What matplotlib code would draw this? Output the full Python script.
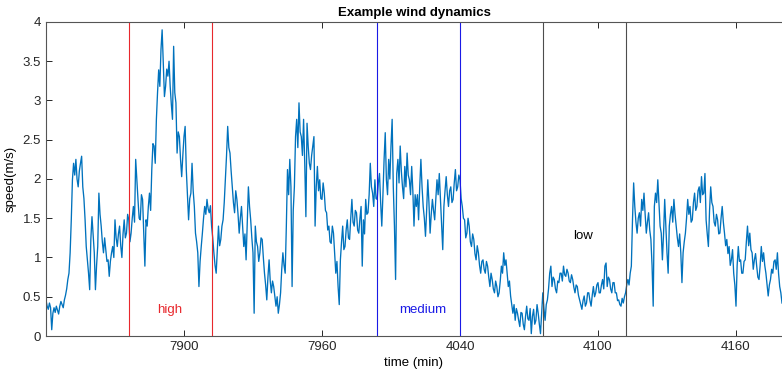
import numpy as np
import matplotlib
matplotlib.use("Agg")
import matplotlib.pyplot as plt
from matplotlib.ticker import FuncFormatter

plt.rcParams["font.family"] = ["Liberation Sans", "DejaVu Sans"]

# DATA (one sample every 0.5 min)

speed = [
    0.46, 0.38, 0.34, 0.42, 0.36, 0.08, 0.29, 0.36, 0.30, 0.38, 0.33, 0.28, 0.38, 0.44, 0.40, 0.36, 0.46, 0.52, 0.60, 0.72,
    0.80, 1.06, 1.48, 1.99, 2.20, 2.05, 2.25, 2.00, 1.90, 2.10, 2.20, 2.29, 1.90, 1.75, 1.48, 1.14, 0.97, 0.80, 0.59, 1.23,
    1.52, 1.30, 1.06, 0.59, 0.90, 1.14, 1.82, 1.55, 1.40, 1.20, 1.06, 1.25, 1.10, 0.95, 0.97, 0.76, 0.95, 1.06, 1.14, 1.00,
    1.48, 1.25, 1.14, 1.30, 1.40, 1.15, 1.00, 1.30, 1.48, 1.25, 1.31, 1.55, 1.48, 1.20, 1.31, 1.50, 1.65, 1.45, 2.25, 1.99,
    1.74, 1.50, 1.48, 1.80, 1.74, 1.30, 0.89, 1.48, 1.40, 1.65, 1.82, 1.60, 2.12, 2.45, 2.42, 2.20, 2.76, 3.10, 3.39, 3.18,
    3.65, 3.90, 3.48, 3.05, 3.18, 3.40, 3.31, 3.50, 3.18, 2.95, 2.76, 3.69, 3.10, 2.97, 2.33, 2.60, 2.54, 2.25, 2.03, 2.30,
    2.54, 2.67, 2.12, 1.80, 1.48, 1.75, 1.82, 2.20, 1.85, 1.65, 1.31, 1.20, 1.06, 0.63, 0.95, 1.14, 1.31, 1.50, 1.65, 1.55,
    1.74, 1.62, 1.57, 1.66, 1.40, 1.25, 1.06, 0.90, 0.80, 1.10, 1.40, 1.15, 1.23, 1.40, 1.48, 1.70, 1.99, 2.30, 2.67, 2.40,
    2.33, 2.10, 1.90, 1.70, 1.57, 1.85, 1.74, 1.55, 1.31, 1.50, 1.65, 1.40, 1.14, 1.30, 0.97, 1.45, 1.90, 1.65, 1.48, 1.25,
    1.06, 0.29, 1.40, 1.20, 1.14, 0.95, 1.06, 1.25, 1.23, 1.00, 0.80, 0.65, 0.46, 0.75, 0.97, 0.70, 0.55, 0.70, 0.63, 0.50,
    0.38, 0.50, 0.29, 0.40, 0.55, 0.85, 1.06, 0.90, 0.80, 1.40, 2.12, 1.80, 2.25, 1.90, 0.63, 1.60, 1.90, 2.54, 2.76, 2.40,
    2.97, 2.60, 2.54, 2.30, 2.76, 2.20, 1.52, 2.71, 2.42, 2.20, 2.12, 2.30, 2.42, 2.54, 1.40, 1.90, 2.16, 1.85, 1.99, 1.75,
    1.74, 1.95, 1.82, 1.60, 1.57, 1.35, 1.40, 1.20, 1.18, 1.40, 1.31, 1.05, 0.80, 0.95, 0.63, 0.40, 0.97, 1.20, 1.40, 1.10,
    1.14, 1.35, 1.48, 1.25, 1.23, 1.50, 1.74, 1.45, 1.40, 1.60, 1.57, 1.35, 1.31, 1.50, 1.65, 0.89, 1.48, 1.30, 1.74, 1.55,
    1.57, 1.80, 2.20, 1.90, 1.82, 1.65, 1.99, 1.75, 1.74, 1.95, 2.07, 1.70, 1.40, 1.80, 2.25, 2.59, 1.99, 1.80, 2.25, 2.00,
    2.42, 2.76, 1.90, 1.40, 0.72, 2.07, 2.25, 1.95, 2.42, 2.10, 1.90, 1.75, 2.16, 1.90, 2.33, 2.05, 1.99, 1.80, 2.16, 1.85,
    1.40, 1.80, 1.65, 1.80, 1.48, 1.90, 2.25, 1.90, 1.65, 1.50, 1.27, 1.60, 1.99, 1.70, 1.31, 1.55, 1.74, 1.60, 1.48, 1.75,
    1.99, 1.80, 2.07, 1.75, 1.40, 1.10, 1.65, 1.85, 2.03, 1.80, 1.65, 1.85, 1.90, 1.70, 1.74, 1.95, 2.12, 1.85, 1.90, 2.05,
    1.99, 1.75, 1.65, 1.50, 1.48, 1.25, 1.31, 1.50, 1.40, 1.20, 1.14, 1.30, 1.23, 1.05, 0.97, 1.15, 1.06, 0.90, 0.80, 0.95,
    0.97, 0.85, 0.80, 0.95, 0.89, 0.75, 0.63, 0.80, 0.72, 0.60, 0.55, 0.70, 0.63, 0.50, 0.55, 0.70, 0.89, 0.80, 1.06, 0.90,
    0.97, 0.80, 0.63, 0.70, 0.51, 0.40, 0.29, 0.40, 0.20, 0.35, 0.29, 0.20, 0.12, 0.30, 0.29, 0.15, 0.08, 0.25, 0.38, 0.22,
    0.20, 0.35, 0.03, 0.25, 0.34, 0.15, 0.20, 0.40, 0.29, 0.15, 0.03, 0.30, 0.55, 0.35, 0.20, 0.40, 0.46, 0.60, 0.80, 0.89,
    0.63, 0.75, 0.72, 0.60, 0.55, 0.70, 0.68, 0.80, 0.80, 0.70, 0.89, 0.78, 0.76, 0.85, 0.80, 0.70, 0.68, 0.78, 0.72, 0.62,
    0.55, 0.65, 0.63, 0.52, 0.46, 0.40, 0.34, 0.45, 0.51, 0.38, 0.42, 0.55, 0.55, 0.45, 0.38, 0.52, 0.63, 0.50, 0.55, 0.65,
    0.68, 0.55, 0.55, 0.65, 0.72, 0.60, 0.89, 0.93, 0.63, 0.75, 0.72, 0.60, 0.55, 0.68, 0.68, 0.55, 0.55, 0.45, 0.46, 0.40,
    0.38, 0.48, 0.42, 0.50, 0.55, 0.65, 0.72, 0.65, 0.80, 0.89, 1.48, 1.95, 1.65, 1.45, 1.31, 1.50, 1.57, 1.40, 1.74, 1.60,
    1.82, 1.55, 1.31, 1.45, 1.57, 1.35, 1.23, 0.90, 0.38, 1.65, 1.82, 1.70, 1.99, 1.70, 1.40, 1.31, 0.97, 1.30, 1.74, 1.40,
    1.06, 0.80, 1.40, 1.55, 1.65, 1.45, 1.74, 1.55, 1.40, 1.25, 1.14, 1.30, 1.06, 0.68, 1.06, 1.20, 1.31, 1.50, 1.74, 1.55,
    1.65, 1.45, 1.48, 1.70, 1.82, 1.60, 1.65, 1.85, 1.90, 1.70, 2.03, 1.80, 1.82, 2.07, 1.48, 1.30, 1.14, 1.60, 1.90, 1.70,
    1.65, 1.45, 1.40, 1.55, 1.48, 1.30, 1.31, 1.50, 1.65, 1.45, 1.31, 1.15, 1.23, 1.05, 1.14, 0.90, 0.97, 1.10, 0.80, 0.65,
    0.38, 0.90, 1.14, 0.95, 0.97, 0.80, 0.80, 0.95, 0.97, 1.20, 1.40, 1.15, 1.31, 1.10, 1.06, 0.85, 0.97, 1.05, 0.89, 0.75,
    0.72, 0.90, 1.14, 0.95, 1.06, 0.90, 0.80, 0.65, 0.51, 0.65, 0.72, 0.85, 0.80, 0.95, 0.97, 0.85, 1.06, 0.80, 0.63, 0.55,
    0.42,
]
minutes = np.arange(len(speed)) * 0.5

tick_pos = [60, 120, 180, 240, 300]
tick_labels = ["7900", "7960", "4040", "4100", "4160"]

# regime windows (start, end) in minutes
windows = {"high": (36, 72), "medium": (144, 180), "low": (216, 252)}
window_colors = {"high": "#e8282d", "medium": "#1a1ae6", "low": "#4d4d4d"}
text_colors = {"high": "#e8282d", "medium": "#1a1ae6", "low": "black"}
text_pos = {"high": (54, 0.33), "medium": (164, 0.33), "low": (233.5, 1.27)}

# PLOT

fig = plt.figure(figsize=(7.82, 3.74), dpi=100)
ax = fig.add_axes([0.0588, 0.1016, 0.9412, 0.8396])

ax.plot(minutes, speed, color="#0072BD", linewidth=0.95)

for name, (a, b) in windows.items():
    ax.axvline(a, color=window_colors[name], linewidth=0.8)
    ax.axvline(b, color=window_colors[name], linewidth=0.8)
    tx, ty = text_pos[name]
    ax.text(tx, ty, name, color=text_colors[name], fontsize=9.5, ha="center", va="center")

ax.set_xlim(0, 320)
ax.set_ylim(0, 4)
ax.set_xticks(tick_pos)
ax.set_xticklabels(tick_labels)
ax.set_yticks(np.arange(0, 4.01, 0.5))
ax.yaxis.set_major_formatter(FuncFormatter(lambda v, p: "%g" % v))

ax.tick_params(direction="in", length=4, width=0.7, colors="#262626",
               labelsize=9.5, top=True, right=False)
for side in ["left", "bottom", "top"]:
    ax.spines[side].set_color("#555555")
    ax.spines[side].set_linewidth(0.8)
ax.spines["right"].set_visible(False)

ax.set_title("Example wind dynamics", fontsize=9.5, fontweight="bold", pad=4)
ax.set_xlabel("time (min)", fontsize=9.5, labelpad=3)
ax.set_ylabel("speed(m/s)", fontsize=9.5, labelpad=4)

fig.savefig("out.png", dpi=100)
